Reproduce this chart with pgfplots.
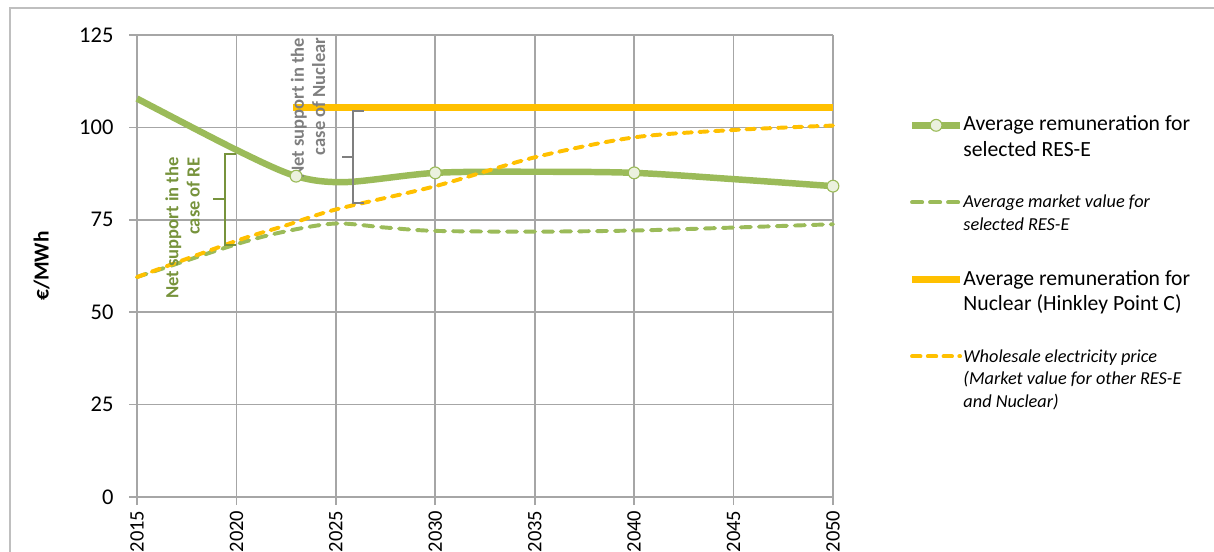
\documentclass[border=0pt]{standalone}
\usepackage{fontspec}
\setmainfont{Carlito}
\usepackage{pgfplots}
\pgfplotsset{compat=1.18}

\definecolor{resgreen}{HTML}{9BBB59}
\definecolor{darkgreen}{HTML}{77933C}
\definecolor{nucorange}{HTML}{FFC000}
\definecolor{gridgray}{HTML}{A6A6A6}
\definecolor{framegray}{HTML}{BFBFBF}
\definecolor{markfill}{HTML}{EBF1DE}
\definecolor{notegray}{HTML}{7F7F7F}

% legend text: only the first line counts for the row height
\newcommand{\legup}[1]{\raisebox{0pt}[5.5pt][1.9pt]{\parbox[t]{3.5cm}{\fontsize{7.7}{9}\selectfont #1}}}
\newcommand{\legit}[1]{\raisebox{0pt}[5.5pt][1.9pt]{\parbox[t]{3.5cm}{\fontsize{6.5}{8.1}\selectfont\itshape #1}}}

\begin{document}
\begin{tikzpicture}
\clip (-1.7125,-0.6875) rectangle (13.4625,6.2125);
\draw[framegray, line width=0.6pt] (-1.5875,-2) rectangle (16,6.1125);
\begin{axis}[
  at={(0,0)}, anchor=south west,
  scale only axis, width=8.7cm, height=5.775cm,
  xmin=2015, xmax=2050, ymin=0, ymax=125,
  xtick={2015,2020,...,2050}, ytick={0,25,...,125},
  grid=major, grid style={gridgray, line width=0.6pt},
  axis lines*=left, axis line style={gridgray, line width=0.6pt},
  tick align=outside, major tick length=0.1cm,
  tick style={gridgray, line width=0.6pt},
  ticklabel style={font=\fontsize{8}{9.5}\selectfont},
  /pgf/number format/assume math mode=true,
  /pgf/number format/1000 sep={},
  xticklabel style={rotate=90, anchor=east, font=\fontsize{7.3}{9}\selectfont},
  xticklabel shift=-1.5pt,
  yticklabel style={xshift=-2pt},
  ylabel={\textbf{€/MWh}},
  ylabel style={at={(axis description cs:-0.137,0.5)}, anchor=center, font=\fontsize{7.6}{9}\selectfont},
  clip=false,
  legend style={at={(axis description cs:1.108,0.827)}, anchor=north west,
    draw=none, fill=none, inner sep=0pt, row sep=20.4pt, column sep=0pt,
    nodes={inner sep=0pt}},
  legend cell align=left,
]

\addplot[resgreen, line width=2.3pt, smooth,
  legend image code/.code={
    \draw[resgreen, line width=2.3pt] (0cm,0cm) -- (0.6cm,0cm);
    \draw[resgreen, fill=markfill, line width=0.4pt] (0.3cm,0cm) circle (2.1pt);}]
  coordinates {(2015,107.8) (2020,93.9) (2023,86.8) (2025.5,85.2) (2030,87.7)
               (2035,88.0) (2040,87.7) (2045,86.0) (2050,84.1)};
\addlegendentry{\legup{Average remuneration for\\selected RES-E}}

\addplot[only marks, mark=*, mark size=2.1pt, forget plot,
  mark options={fill=markfill, draw=resgreen, line width=0.4pt}]
  coordinates {(2023,86.8) (2030,87.7) (2040,87.7) (2050,84.1)};

\addplot[resgreen, line width=1.4pt, smooth, line cap=round,
  dash pattern=on 3.6pt off 2.8pt]
  coordinates {(2015,59.5) (2020,68.4) (2022.5,71.9) (2025,74.0) (2027.5,72.9)
               (2030,72.0) (2035,71.8) (2040,72.1) (2045,72.9) (2050,73.8)};
\addlegendentry{\legit{Average market value for\\selected RES-E}}

\addplot[nucorange, line width=2.4pt]
  coordinates {(2022.85,105.4) (2050,105.4)};
\addlegendentry{\legup{Average remuneration for\\Nuclear (Hinkley Point C)}}

\addplot[nucorange, line width=1.4pt, smooth, line cap=round,
  dash pattern=on 3pt off 2.6pt]
  coordinates {(2015,59.5) (2020,69.3) (2022.5,73.5) (2025,77.8) (2030,84.1)
               (2035,91.9) (2040,97.3) (2045,99.3) (2050,100.5)};
\addlegendentry{\legit{Wholesale electricity price\\(Market value for other RES-E\\and Nuclear)}}

% net support brackets and notes
\draw[darkgreen, line width=0.7pt]
  (axis cs:2019.98,92.8) -- (axis cs:2019.43,92.8) -- (axis cs:2019.43,68.2) -- (axis cs:2019.98,68.2);
\draw[darkgreen, line width=0.7pt] (axis cs:2019.43,80.6) -- (axis cs:2018.82,80.6);
\node[rotate=90, anchor=east, align=right, text=darkgreen, inner sep=0pt,
  font=\bfseries\fontsize{6.6}{7.6}\selectfont] at (axis cs:2017.29,92.0)
  {Net support in the\\case of RE};

\draw[notegray, line width=0.7pt]
  (axis cs:2026.41,104.4) -- (axis cs:2025.86,104.4) -- (axis cs:2025.86,79.5) -- (axis cs:2026.41,79.5);
\draw[notegray, line width=0.7pt] (axis cs:2025.86,92.0) -- (axis cs:2025.31,92.0);
\node[rotate=90, anchor=east, align=right, text=notegray, inner sep=0pt,
  font=\bfseries\fontsize{6.6}{7.6}\selectfont] at (axis cs:2023.6,124.4)
  {Net support in the\\case of Nuclear};

\end{axis}
\end{tikzpicture}
\end{document}
